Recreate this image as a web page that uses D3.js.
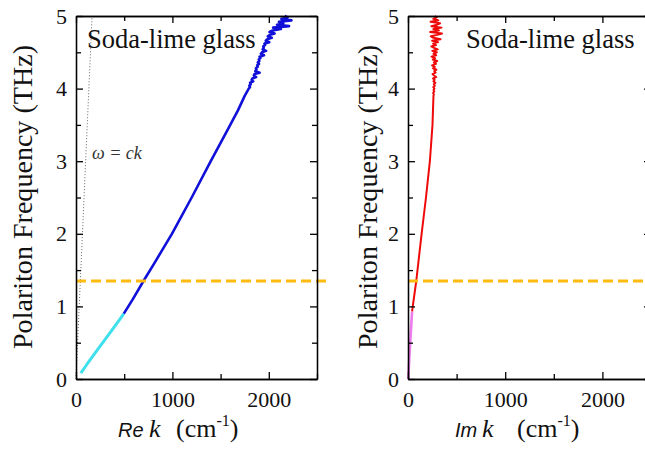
<!DOCTYPE html>
<html>
<head>
  <meta charset="utf-8">
  <title>Soda-lime glass polariton dispersion</title>
  <script src="https://d3js.org/d3.v7.min.js"></script>
  <style>
    body { margin: 0; background: #fff; }
    svg { display: block; }
    .axis path, .axis line { stroke: #000; stroke-width: 1.3; }
  </style>
</head>
<body>
  <svg id="chart" width="645" height="449"></svg>

  <script>
    const SERIF = "Liberation Serif";
    const SANS = "Liberation Sans";

    // Re k, low-frequency part (cyan)
    const reLowFreq = [0.08, 0.2, 0.4, 0.6, 0.8, 0.9];
    const reLowK = [50, 112, 222, 333, 443, 496];

    // Re k, main branch (blue), noisy above 4 THz
    const reFreq = [0.9, 1.1, 1.35, 1.6, 2.0, 2.5, 3.0, 3.4, 3.7, 3.9,
      4.00, 4.02, 4.04, 4.06, 4.08, 4.10, 4.12, 4.14, 4.16, 4.18, 4.20, 4.22, 4.24,
      4.26, 4.28, 4.30, 4.32, 4.34, 4.36, 4.38, 4.40, 4.42, 4.44, 4.46, 4.48, 4.50,
      4.52, 4.54, 4.56, 4.58, 4.60, 4.62, 4.64, 4.66, 4.68, 4.70, 4.72, 4.74, 4.76,
      4.78, 4.80, 4.82, 4.84, 4.86, 4.88, 4.90, 4.92, 4.94, 4.96, 4.98, 5.00];
    const reK = [496, 590, 700, 815, 995, 1200, 1398, 1560, 1680, 1750,
      1792, 1805, 1798, 1812, 1806, 1838, 1822, 1830, 1868, 1845, 1852, 1905, 1860,
      1872, 1866, 1885, 1880, 1898, 1886, 1902, 1896, 1912, 1904, 1950, 1918, 1930,
      1972, 1936, 1948, 1942, 1962, 1955, 2005, 1968, 1985, 2030, 1990, 2012, 2060,
      2008, 2040, 2125, 2045, 2210, 2085, 2150, 2105, 2235, 2130, 2195, 2165];

    // Im k, low-frequency part (violet)
    const imLowFreq = [0.0, 0.3, 0.6, 0.93];
    const imLowK = [3, 14, 27, 42];

    // Im k, main branch (red), noisy above 4 THz
    const imFreq = [0.93, 1.35, 2.0, 2.5, 3.0, 3.5,
      3.90, 3.92, 3.94, 3.96, 3.98, 4.00, 4.02, 4.04, 4.06, 4.08, 4.10, 4.12, 4.14,
      4.16, 4.18, 4.20, 4.22, 4.24, 4.26, 4.28, 4.30, 4.32, 4.34, 4.36, 4.38, 4.40,
      4.42, 4.44, 4.46, 4.48, 4.50, 4.52, 4.54, 4.56, 4.58, 4.60, 4.62, 4.64, 4.66,
      4.68, 4.70, 4.72, 4.74, 4.76, 4.78, 4.80, 4.82, 4.84, 4.86, 4.88, 4.90, 4.92,
      4.94, 4.96, 4.98, 5.00];
    const imK = [42, 85, 140, 185, 225, 252,
      262, 266, 259, 270, 263, 272, 260, 276, 266, 282, 262, 274, 258,
      290, 268, 252, 284, 270, 292, 258, 276, 248, 288, 266, 300, 255,
      278, 242, 290, 262, 296, 250, 306, 268, 240, 288, 258, 310, 248,
      335, 262, 236, 300, 350, 228, 318, 262, 345, 240, 300, 330, 232,
      312, 260, 295, 275];

    // light line omega = ck (k = f / c in cm^-1)
    const lightFreq = [0, 5];
    const lightK = [0, 166.7];

    const cutoffFreq = 1.35;

    const xMajor = [0, 1000, 2000];
    const xMinor = [500, 1500, 2500];
    const yMajor = [0, 1, 2, 3, 4, 5];
    const yMinor = [0.5, 1.5, 2.5, 3.5, 4.5];

    const svg = d3.select("#chart");
    const y = d3.scaleLinear().domain([0, 5]).range([379, 16]);

    const panels = [
      { x: d3.scaleLinear().domain([0, 2500]).range([76, 317]), yLabelX: 32, titleX: 87,
        axisName: "Re", nameX: 118, kX: 149, unitX: 176, dashEnd: 326 },
      { x: d3.scaleLinear().domain([0, 2500]).range([408, 651]), yLabelX: 377, titleX: 466,
        axisName: "Im", nameX: 455, kX: 482, unitX: 517, dashEnd: 645 }
    ];

    function zip(fs, ks) {
      return fs.map((f, i) => ({ f: f, k: ks[i] }));
    }

    function styleTicks(g) {
      g.selectAll("text")
        .style("font-family", SERIF)
        .style("font-size", "22px")
        .style("fill", "#111");
    }

    function drawAxes(p) {
      const x = p.x;
      const x0 = x.range()[0], x1 = x.range()[1];
      const bottom = svg.append("g").attr("class", "axis").attr("transform", `translate(0,${y(0)})`);
      bottom.call(d3.axisBottom(x).tickValues(xMajor).tickSize(-7).tickSizeOuter(0).tickPadding(12).tickFormat(d3.format("d")));
      bottom.append("g").call(d3.axisBottom(x).tickValues(xMinor).tickSize(-5).tickSizeOuter(0).tickFormat(""));
      styleTicks(bottom);

      const top = svg.append("g").attr("class", "axis").attr("transform", `translate(0,${y(5)})`);
      top.call(d3.axisTop(x).tickValues(xMajor).tickSize(-7).tickSizeOuter(0).tickFormat(""));
      top.append("g").call(d3.axisTop(x).tickValues(xMinor).tickSize(-5).tickSizeOuter(0).tickFormat(""));

      const left = svg.append("g").attr("class", "axis").attr("transform", `translate(${x0},0)`);
      left.call(d3.axisLeft(y).tickValues(yMajor).tickSize(-7).tickSizeOuter(0).tickPadding(9).tickFormat(d3.format("d")));
      left.append("g").call(d3.axisLeft(y).tickValues(yMinor).tickSize(-5).tickSizeOuter(0).tickFormat(""));
      styleTicks(left);

      const right = svg.append("g").attr("class", "axis").attr("transform", `translate(${x1},0)`);
      right.call(d3.axisRight(y).tickValues(yMajor).tickSize(-7).tickSizeOuter(0).tickFormat(""));
      right.append("g").call(d3.axisRight(y).tickValues(yMinor).tickSize(-5).tickSizeOuter(0).tickFormat(""));
    }

    function drawLine(p, data, color, width, dash) {
      const line = d3.line().x(d => p.x(d.k)).y(d => y(d.f));
      svg.append("path")
        .datum(data)
        .attr("fill", "none")
        .attr("stroke", color)
        .attr("stroke-width", width)
        .attr("stroke-linejoin", "round")
        .attr("stroke-dasharray", dash || null)
        .attr("d", line);
    }

    function drawLabels(p) {
      svg.append("text")
        .attr("x", p.titleX)
        .attr("y", 48)
        .style("font-family", SERIF)
        .style("font-size", "26.5px")
        .style("fill", "#111")
        .text("Soda-lime glass");

      svg.append("text")
        .attr("transform", `translate(${p.yLabelX},${197}) rotate(-90)`)
        .attr("text-anchor", "middle")
        .attr("textLength", 304)
        .attr("lengthAdjust", "spacingAndGlyphs")
        .style("font-family", SERIF)
        .style("font-size", "28px")
        .style("fill", "#111")
        .text("Polariton Frequency (THz)");

      const xl = svg.append("text")
        .attr("y", 437)
        .style("font-family", SERIF)
        .style("fill", "#111");
      xl.append("tspan")
        .attr("x", p.nameX)
        .style("font-family", SANS)
        .style("font-style", "italic")
        .style("font-size", "20px")
        .text(p.axisName);
      xl.append("tspan")
        .attr("x", p.kX)
        .style("font-style", "italic")
        .style("font-size", "26px")
        .text("k");
      xl.append("tspan")
        .attr("x", p.unitX)
        .style("font-size", "26px")
        .text("(cm");
      xl.append("tspan")
        .attr("dy", -11)
        .style("font-size", "16px")
        .text("-1");
      xl.append("tspan")
        .attr("dy", 11)
        .style("font-size", "26px")
        .text(")");
    }

    // left panel: Re k
    const pl = panels[0];
    drawLine(pl, zip(lightFreq, lightK), "#666", 1, "1,2");
    svg.append("rect")
      .attr("x", 90).attr("y", 145).attr("width", 50).attr("height", 18)
      .attr("fill", "#fff");
    svg.append("text")
      .attr("x", 92)
      .attr("y", 159)
      .style("font-family", SERIF)
      .style("font-style", "italic")
      .style("font-size", "18px")
      .style("fill", "#333")
      .text("ω = ck");
    drawLine(pl, zip(reLowFreq, reLowK), "#3ee0ec", 3);
    drawLine(pl, zip(reFreq, reK), "#1010d8", 2.6);

    // right panel: Im k
    const pr = panels[1];
    drawLine(pr, zip(imLowFreq, imLowK), "#ec7cec", 2.6);
    drawLine(pr, zip(imFreq, imK), "#ee0a0a", 2);

    panels.forEach(p => {
      svg.append("line")
        .attr("x1", p.x.range()[0])
        .attr("x2", p.dashEnd)
        .attr("y1", y(cutoffFreq))
        .attr("y2", y(cutoffFreq))
        .attr("stroke", "#ffbb10")
        .attr("stroke-width", 3.2)
        .attr("stroke-dasharray", "10,5");
      drawAxes(p);
      drawLabels(p);
    });
  </script>
</body>
</html>
